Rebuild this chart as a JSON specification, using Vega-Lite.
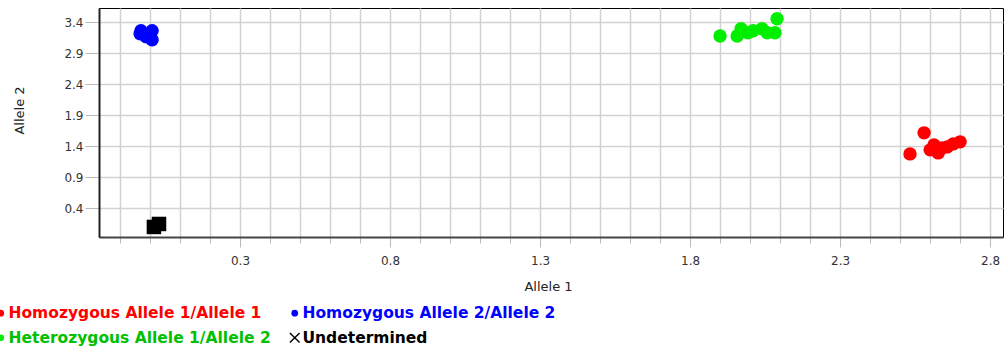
{
  "$schema": "https://vega.github.io/schema/vega-lite/v6.json",
  "autosize": {"type": "none"},
  "padding": {"left": 99, "top": 8, "right": 5, "bottom": 110},
  "width": 904,
  "height": 229,
  "background": "#ffffff",
  "config": {
    "view": {"stroke": "#000000", "strokeWidth": 1},
    "font": "DejaVu Sans"
  },
  "data": {
    "values": [
      {"g": "Homozygous Allele 1/Allele 1", "a1": 2.533, "a2": 1.279},
      {"g": "Homozygous Allele 1/Allele 1", "a1": 2.58, "a2": 1.618},
      {"g": "Homozygous Allele 1/Allele 1", "a1": 2.60, "a2": 1.344},
      {"g": "Homozygous Allele 1/Allele 1", "a1": 2.627, "a2": 1.295},
      {"g": "Homozygous Allele 1/Allele 1", "a1": 2.657, "a2": 1.392},
      {"g": "Homozygous Allele 1/Allele 1", "a1": 2.70, "a2": 1.473},
      {"g": "Homozygous Allele 1/Allele 1", "a1": 2.677, "a2": 1.44},
      {"g": "Homozygous Allele 1/Allele 1", "a1": 2.613, "a2": 1.424},
      {"g": "Homozygous Allele 1/Allele 1", "a1": 2.64, "a2": 1.376},
      {"g": "Homozygous Allele 2/Allele 2", "a1": -0.03, "a2": 3.263},
      {"g": "Homozygous Allele 2/Allele 2", "a1": 0.007, "a2": 3.263},
      {"g": "Homozygous Allele 2/Allele 2", "a1": 0.007, "a2": 3.118},
      {"g": "Homozygous Allele 2/Allele 2", "a1": -0.033, "a2": 3.215},
      {"g": "Homozygous Allele 2/Allele 2", "a1": -0.01, "a2": 3.198},
      {"g": "Homozygous Allele 2/Allele 2", "a1": -0.013, "a2": 3.166},
      {"g": "Heterozygous Allele 1/Allele 2", "a1": 1.90, "a2": 3.18},
      {"g": "Heterozygous Allele 1/Allele 2", "a1": 1.957, "a2": 3.18},
      {"g": "Heterozygous Allele 1/Allele 2", "a1": 1.97, "a2": 3.295},
      {"g": "Heterozygous Allele 1/Allele 2", "a1": 2.01, "a2": 3.263},
      {"g": "Heterozygous Allele 1/Allele 2", "a1": 2.04, "a2": 3.295},
      {"g": "Heterozygous Allele 1/Allele 2", "a1": 2.057, "a2": 3.23},
      {"g": "Heterozygous Allele 1/Allele 2", "a1": 2.083, "a2": 3.23},
      {"g": "Heterozygous Allele 1/Allele 2", "a1": 2.09, "a2": 3.456},
      {"g": "Heterozygous Allele 1/Allele 2", "a1": 1.993, "a2": 3.23},
      {"g": "Undetermined", "a1": 0.013, "a2": 0.102},
      {"g": "Undetermined", "a1": 0.03, "a2": 0.15}
    ]
  },
  "mark": {"type": "point", "filled": true, "opacity": 1},
  "encoding": {
    "x": {
      "field": "a1",
      "type": "quantitative",
      "scale": {"domain": [-0.17, 2.843], "nice": false, "zero": false},
      "axis": {
        "title": "Allele 1",
        "values": [-0.1, 0, 0.1, 0.2, 0.3, 0.4, 0.5, 0.6, 0.7, 0.8, 0.9, 1.0, 1.1, 1.2, 1.3, 1.4, 1.5, 1.6, 1.7, 1.8, 1.9, 2.0, 2.1, 2.2, 2.3, 2.4, 2.5, 2.6, 2.7, 2.8],
        "labelExpr": "abs(round((datum.value - 0.3) * 10)) % 5 === 0 ? format(datum.value, '.1f') : ''",
        "tickSize": {"expr": "abs(round((datum.value - 0.3) * 10)) % 5 === 0 ? 10 : 6"},
        "tickColor": "#bbbbbb",
        "labelPadding": 8,
        "labelFont": "DejaVu Sans",
        "labelFontSize": 12,
        "labelColor": "#333333",
        "labelOverlap": false,
        "labelFlush": false,
        "grid": true,
        "gridColor": "#d2d2d2",
        "gridWidth": 1.5,
        "domainColor": "#444444",
        "domainWidth": 2,
        "titleFont": "DejaVu Sans",
        "titleFontSize": 13,
        "titleFontWeight": "normal",
        "titleColor": "#222222",
        "titleX": 449,
        "titleY": 49,
        "titleBaseline": "middle",
        "titleAlign": "center"
      }
    },
    "y": {
      "field": "a2",
      "type": "quantitative",
      "scale": {"domain": [-0.06, 3.63], "nice": false, "zero": false},
      "axis": {
        "title": "Allele 2",
        "values": [0.4, 0.9, 1.4, 1.9, 2.4, 2.9, 3.4],
        "format": ".1f",
        "tickSize": 14,
        "tickColor": "#bbbbbb",
        "labelPadding": 2,
        "labelFont": "DejaVu Sans",
        "labelFontSize": 12,
        "labelColor": "#333333",
        "grid": true,
        "gridColor": "#d2d2d2",
        "gridWidth": 1.5,
        "domainColor": "#222222",
        "domainWidth": 2,
        "titleFont": "DejaVu Sans",
        "titleFontSize": 13,
        "titleFontWeight": "normal",
        "titleColor": "#222222",
        "titleX": -80,
        "titleY": 102,
        "titleAngle": -90,
        "titleBaseline": "middle",
        "titleAlign": "center"
      }
    },
    "color": {
      "field": "g",
      "type": "nominal",
      "scale": {
        "domain": ["Homozygous Allele 1/Allele 1", "Homozygous Allele 2/Allele 2", "Heterozygous Allele 1/Allele 2", "Undetermined"],
        "range": ["#ff0000", "#0000ff", "#00ee00", "#000000"]
      },
      "legend": {
        "title": null,
        "orient": "none",
        "legendX": -106,
        "legendY": 297,
        "direction": "horizontal",
        "columns": 2,
        "padding": 0,
        "columnPadding": 16,
        "rowPadding": 8,
        "labelFont": "DejaVu Sans",
        "labelFontSize": 15.5,
        "labelFontWeight": "bold",
        "labelLimit": 400,
        "labelOffset": 0,
        "labelColor": {"expr": "datum.value === 'Homozygous Allele 1/Allele 1' ? '#ff0000' : datum.value === 'Homozygous Allele 2/Allele 2' ? '#0000ff' : datum.value === 'Heterozygous Allele 1/Allele 2' ? '#00c000' : '#000000'"},
        "symbolSize": 45,
        "symbolType": {"expr": "datum.value === 'Undetermined' ? 'M-1.6,-1.3L-1.3,-1.6L0,-0.3L1.3,-1.6L1.6,-1.3L0.3,0L1.6,1.3L1.3,1.6L0,0.3L-1.3,1.6L-1.6,1.3L-0.3,0Z' : 'circle'"}
      }
    },
    "shape": {
      "condition": {"test": "datum.g === 'Undetermined'", "value": "square"},
      "value": "circle"
    },
    "size": {
      "condition": {"test": "datum.g === 'Undetermined'", "value": 210},
      "value": 180
    }
  }
}
